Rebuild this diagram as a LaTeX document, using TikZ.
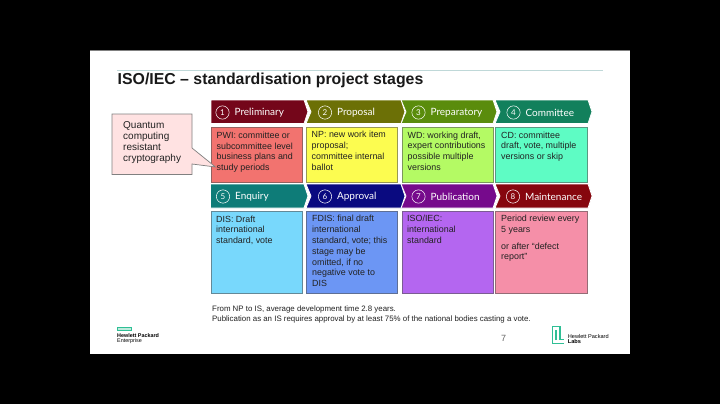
\documentclass[tikz,border=0pt]{standalone}
\usepackage{fontspec}
\setmainfont{Liberation Sans}
\newfontfamily\chevfont{Lato}
\definecolor{c1}{HTML}{74061A}\definecolor{c2}{HTML}{6C7006}\definecolor{c3}{HTML}{5A8C0C}\definecolor{c4}{HTML}{12805C}
\definecolor{c5}{HTML}{0E7C78}\definecolor{c6}{HTML}{0A0A80}\definecolor{c7}{HTML}{760A8C}\definecolor{c8}{HTML}{86060E}
\definecolor{b1}{HTML}{F2736F}\definecolor{b2}{HTML}{FCFC50}\definecolor{b3}{HTML}{B4FA64}\definecolor{b4}{HTML}{5EFCC4}
\definecolor{b5}{HTML}{78D8FC}\definecolor{b6}{HTML}{6C96F4}\definecolor{b7}{HTML}{B466F0}\definecolor{b8}{HTML}{F58FA8}
\definecolor{txt}{HTML}{222222}
\definecolor{hpgreen}{HTML}{2FBF95}
\definecolor{hplight}{HTML}{BFEBDD}
\definecolor{rulec}{HTML}{BFD8D8}
\definecolor{calloutc}{HTML}{FFE2E2}
\tikzset{
 boxst/.style={draw=#1!50!black!80,line width=.7pt,inner sep=0pt},
 bodytxt/.style={anchor=north west,align=left,font=\fontsize{8.9}{10.8}\selectfont,text=txt,inner sep=0pt},
 numst/.style={circle,draw=white,line width=.5pt,minimum size=13.3pt,inner sep=0pt,text=white,font=\chevfont\fontsize{8}{8}\selectfont},
 chevtxt/.style={anchor=west,text=white,inner sep=0pt,font=\chevfont\fontsize{10}{10}\selectfont},
 notetxt/.style={anchor=west,inner sep=0pt,text=txt,font=\fontsize{7.87}{8}\selectfont},
}
\newcommand{\chev}[5]{\filldraw[fill=#5,draw=white,line width=.8pt] (#1,#3) -- (#2-4,#3) -- (#2,{(#3+#4)/2}) -- (#2-4,#4) -- (#1,#4) -- (#1+5,{(#3+#4)/2}) -- cycle;}
\newcommand{\chevflat}[5]{\filldraw[fill=#5,draw=white,line width=.8pt] (#1,#3) -- (#2-4,#3) -- (#2,{(#3+#4)/2}) -- (#2-4,#4) -- (#1,#4) -- cycle;}
\newcommand{\stagebox}[5]{\draw[boxst=#5,fill=#5] (#1,#3) rectangle (#2,#4);}
\begin{document}
\begin{tikzpicture}[x=1pt,y=-1pt]
\useasboundingbox (0,0) rectangle (720,404);
\fill[black] (0,0) rectangle (720,404);
\fill[white] (90,50) rectangle (630,354);
\fill[gray] (90,50) rectangle (630,51);
\draw[color=rulec,line width=.7pt] (117,70.5) -- (603,70.5);
\node[anchor=base west,inner sep=0pt,font=\bfseries\fontsize{15.85}{16}\selectfont,text=black!90] (title) at (117.5,84.5) {ISO/IEC – standardisation project stages};
\chev{495}{592}{100}{123.5}{c4}
\chev{401}{497}{100}{123.5}{c3}
\chev{306}{405}{100}{123.5}{c2}
\chevflat{211}{308}{100}{123.5}{c1}
\chev{495}{592}{184}{208}{c8}
\chev{401}{497}{184}{208}{c7}
\chev{306}{405}{184}{208}{c6}
\chevflat{210.5}{308}{184}{208}{c5}
\foreach \nm/\cx/\cy/\n/\lab in {a/222.5/112.5/1/Preliminary,b/325/112.5/2/Proposal,c/418.5/112.5/3/Preparatory,d/513.5/112.5/4/Committee,e/223/196.5/5/Enquiry,f/325/196.5/6/Approval,g/418.5/196.5/7/Publication,h/513/196.5/8/Maintenance}{
 \node[numst] (n\nm) at (\cx,\cy) {\n};
 \node[chevtxt] (l\nm) at ([xshift=5pt,yshift=-.5pt]n\nm.east) {\lab};
}
\stagebox{211}{302.5}{127}{182}{b1}
\stagebox{306}{397}{127}{182}{b2}
\stagebox{402}{493}{127}{182}{b3}
\stagebox{495.5}{587}{127}{182}{b4}
\stagebox{211}{302}{211}{293}{b5}
\stagebox{306.5}{397.5}{211}{293}{b6}
\stagebox{402}{493}{211}{293}{b7}
\stagebox{495.5}{587}{211}{293}{b8}
\node[bodytxt] (t1) at (216.5,131.7) {PWI: committee or\\subcommittee level\\business plans and\\study periods};
\node[bodytxt] (t2) at (311.5,131.2) {NP: new work item\\proposal;\\committee internal\\ballot};
\node[bodytxt] (t3) at (407.5,131.5) {WD: working draft,\\expert contributions\\possible multiple\\versions};
\node[bodytxt] (t4) at (501,131.5) {CD: committee\\draft, vote, multiple\\versions or skip};
\node[bodytxt] (t5) at (216,215.5) {DIS: Draft\\international\\standard, vote};
\node[bodytxt] (t6) at (312,215.3) {FDIS: final draft\\international\\standard, vote; this\\stage may be\\omitted, if no\\negative vote to\\DIS};
\node[bodytxt] (t7) at (407,215.3) {ISO/IEC:\\international\\standard};
\node[bodytxt] (t8) at (501,215.3) {Period review every\\5 years\\[5.5pt]or after “defect\\report”};
\draw[fill=calloutc,draw=black!50,line width=.7pt] (112,114) -- (192,114) -- (192,148) -- (215.5,167) -- (192,164) -- (192,174.5) -- (112,174.5) -- cycle;
\node[bodytxt,font=\fontsize{10}{11.2}\selectfont] (q) at (123,121) {Quantum\\computing\\resistant\\cryptography};
\node[notetxt] (n1) at (212,309.5) {From NP to IS, average development time 2.8 years.};
\node[notetxt] (n2) at (212,319.5) {Publication as an IS requires approval by at least 75\% of the national bodies casting a vote.};
\node[inner sep=0pt,font=\fontsize{9}{9}\selectfont,text=black!60] (pg) at (503.5,338.5) {7};
\draw[color=hpgreen,fill=hplight,line width=.9pt] (117,327) rectangle (131,330);
\node[anchor=west,inner sep=0pt,font=\bfseries\fontsize{5.4}{5}\selectfont] (hp) at (117,335.5) {Hewlett Packard};
\node[anchor=west,inner sep=0pt,font=\fontsize{5.4}{5}\selectfont] (en) at (117,341) {Enterprise};
\draw[color=hpgreen,line width=1.3pt] (564,343.5) -- (552.5,343.5) -- (552.5,326.5) -- (560,326.5) -- (560,339.5) -- (564,339.5);
\draw[color=hpgreen,line width=1.1pt] (556,340) -- (556,330);
\node[anchor=west,inner sep=0pt,font=\fontsize{5.6}{5}\selectfont] (hl) at (567.7,336) {Hewlett Packard};
\node[anchor=west,inner sep=0pt,font=\bfseries\fontsize{5.6}{5}\selectfont] (lb) at (567.7,341.5) {Labs};
\end{tikzpicture}
\end{document}
